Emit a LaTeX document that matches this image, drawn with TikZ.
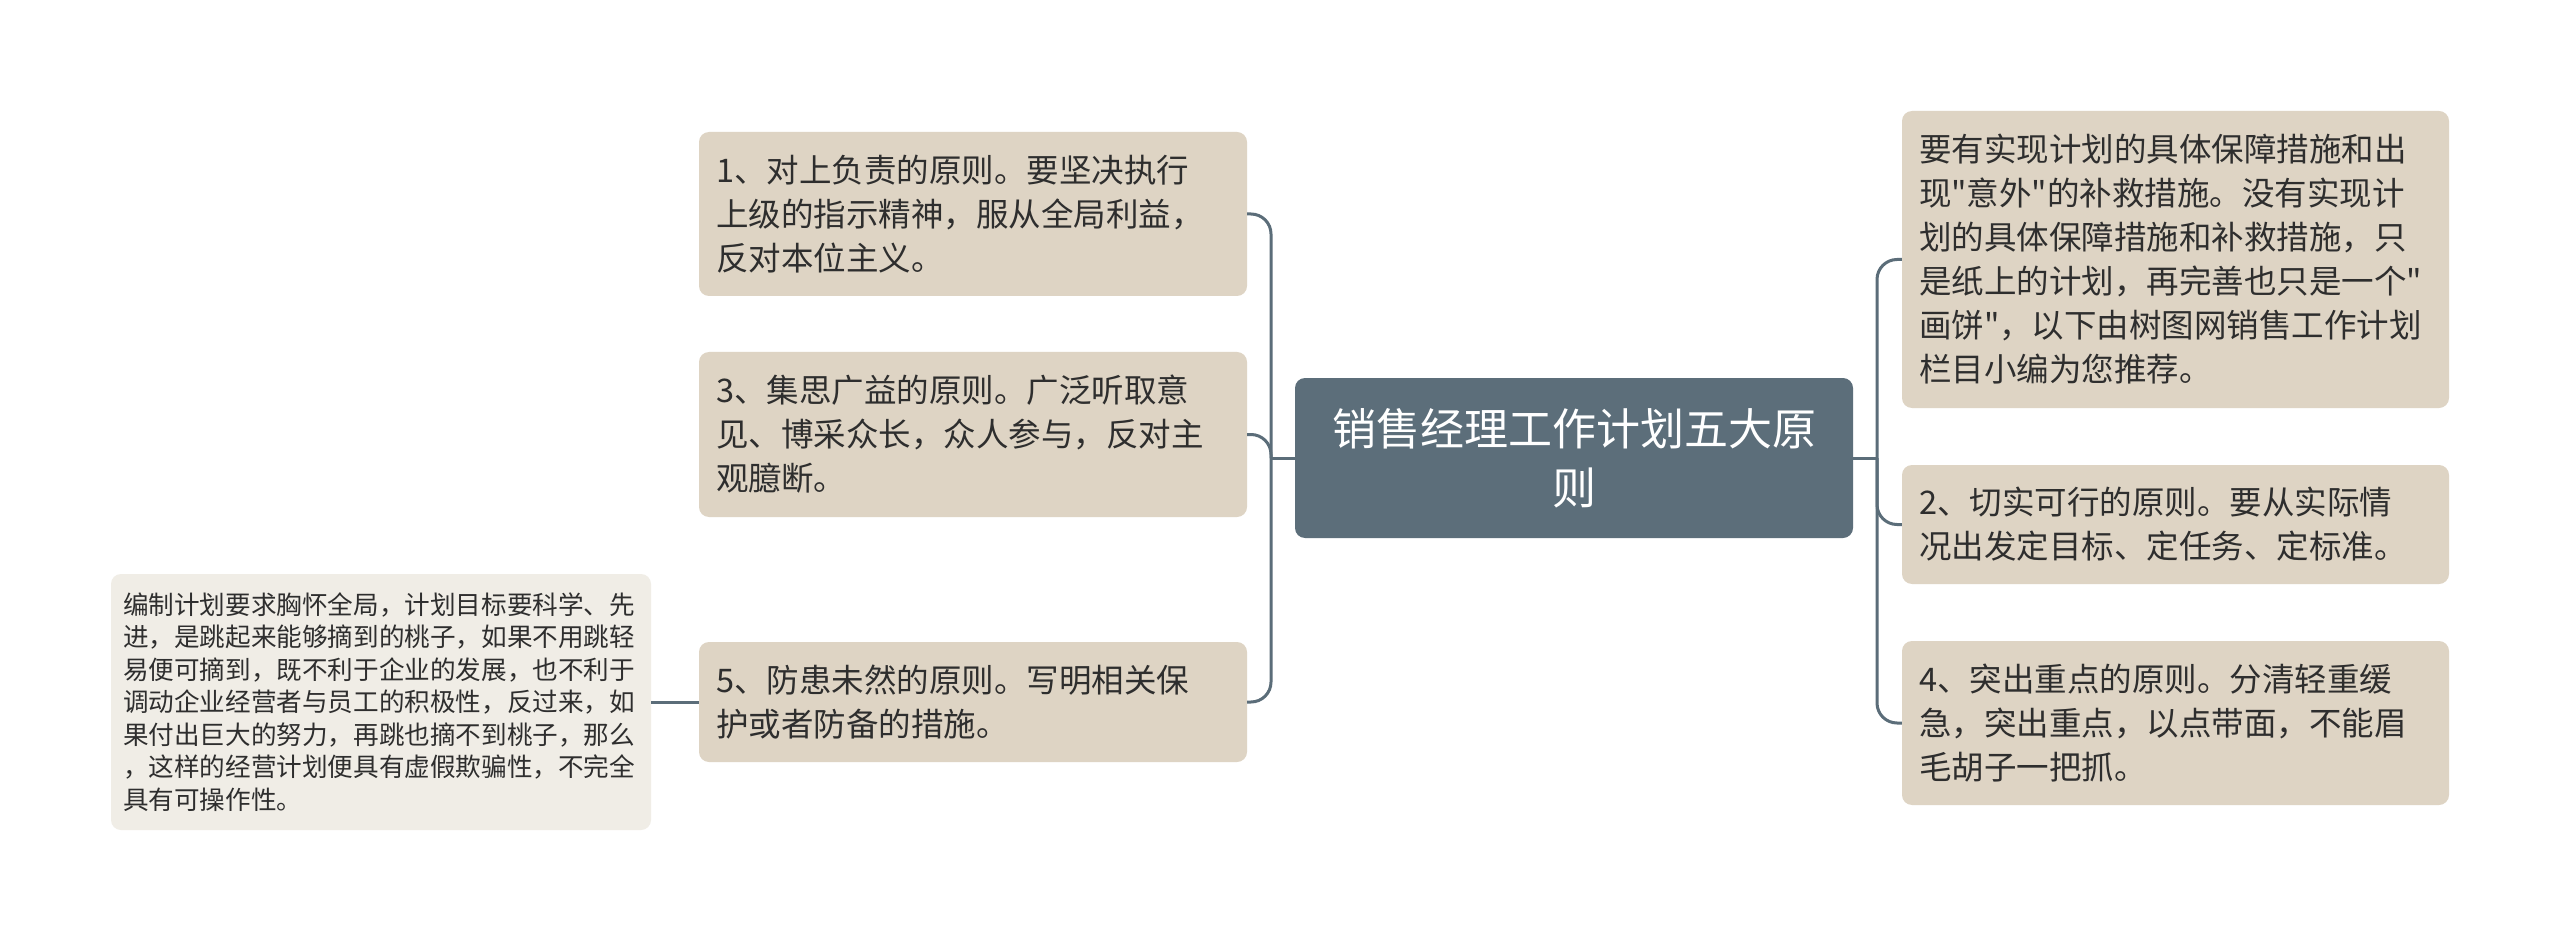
\documentclass[tikz,border=0pt]{standalone}
\usepackage{fontspec}
\setmainfont[Ligatures=TeXOff]{Noto Sans CJK SC}
\definecolor{slate}{HTML}{5C6E7A}
\definecolor{beige}{HTML}{DED4C4}
\definecolor{pale}{HTML}{F0EDE6}
\definecolor{txt}{HTML}{2E2E2E}
\definecolor{conn}{HTML}{5B6D79}
\begin{document}
\begin{tikzpicture}[x=1pt,y=-1pt,
  box/.style={fill=beige, rounded corners=10pt, inner xsep=17pt, inner ysep=0pt,
    align=left, text=txt, font=\fontsize{32.5}{44}\selectfont},
  farbox/.style={fill=pale, rounded corners=10pt, inner xsep=12pt, inner ysep=0pt,
    align=left, text=txt, font=\fontsize{25.6}{32.5}\selectfont},
  topic/.style={fill=slate, rounded corners=10pt, inner sep=0pt, align=center,
    text=white, font=\fontsize{44}{59}\selectfont},
  link/.style={draw=conn, line width=3pt},
  branch/.style={link, rounded corners=20pt}]
\fill[white] (0,0) rectangle (2560,941);
\useasboundingbox (0,0) rectangle (2560,941);

\node[topic, minimum width=558pt, minimum height=160pt] (c) at (1574,458) {销售经理工作计划五大原\\则};

\node[box, text width=514pt, minimum height=164pt] (b1) at (973,214)
  {1、对上负责的原则。要坚决执行\\上级的指示精神，服从全局利益，\\反对本位主义。};
\node[box, text width=514pt, minimum height=165pt] (b3) at (973,434.5)
  {3、集思广益的原则。广泛听取意\\见、博采众长，众人参与，反对主\\观臆断。};
\node[box, text width=514pt, minimum height=120pt] (b5) at (973,702)
  {5、防患未然的原则。写明相关保\\护或者防备的措施。};
\node[farbox, text width=516pt, minimum height=256pt] (far) at (381,702)
  {编制计划要求胸怀全局，计划目标要科学、先\\进，是跳起来能够摘到的桃子，如果不用跳轻\\易便可摘到，既不利于企业的发展，也不利于\\调动企业经营者与员工的积极性，反过来，如\\果付出巨大的努力，再跳也摘不到桃子，那么\\，这样的经营计划便具有虚假欺骗性，不完全\\具有可操作性。};

\node[box, text width=513pt, minimum height=297pt] (bA) at (2175.5,259.5)
  {要有实现计划的具体保障措施和出\\现"意外"的补救措施。没有实现计\\划的具体保障措施和补救措施，只\\是纸上的计划，再完善也只是一个"\\画饼"，以下由树图网销售工作计划\\栏目小编为您推荐。};
\node[box, text width=513pt, minimum height=119pt] (b2) at (2175.5,524.5)
  {2、切实可行的原则。要从实际情\\况出发定目标、定任务、定标准。};
\node[box, text width=513pt, minimum height=164pt] (b4) at (2175.5,723)
  {4、突出重点的原则。分清轻重缓\\急，突出重点，以点带面，不能眉\\毛胡子一把抓。};

\coordinate (jL) at (1271,458);
\coordinate (jR) at (1877,458);
\draw[link] (c.west) -- (jL);
\draw[link] (c.east) -- (jR);
\draw[branch] (jL) |- (b1.east);
\draw[branch] (jL) |- (b3.east);
\draw[branch] (jL) |- (b5.east);
\draw[branch] (jR) |- (bA.west);
\draw[branch] (jR) |- (b2.west);
\draw[branch] (jR) |- (b4.west);
\draw[link] (b5.west) -- (far.east);
\end{tikzpicture}
\end{document}
